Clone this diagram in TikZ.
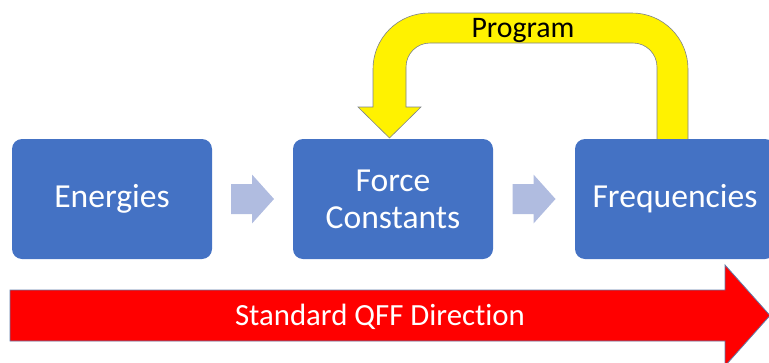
\documentclass[tikz,border=0pt]{standalone}
\usepackage{fontspec}
\setmainfont{Carlito}[Ligatures={NoCommon}]
\usetikzlibrary{calc}

\definecolor{boxblue}{RGB}{68,114,196}
\definecolor{stepgrey}{RGB}{176,188,224}
\definecolor{edgeblue}{RGB}{96,125,170}
\definecolor{edgegrey}{RGB}{125,130,140}

\tikzset{
  stage/.style={rectangle, rounded corners=10pt, fill=boxblue, text=white,
    minimum width=200pt, minimum height=120pt, inner sep=0pt, align=center,
    font=\fontsize{33.6}{37}\selectfont},
  flowarrow/.style={fill=stepgrey},
  feedback/.style={fill=yellow, draw=edgegrey, line width=0.6pt},
  bigarrow/.style={fill=red, draw=edgeblue, line width=0.8pt},
  caption/.style={anchor=base, inner sep=0pt},
}

\begin{document}
\begin{tikzpicture}[x=1pt, y=-1pt]
  \useasboundingbox (0,0) rectangle (769,362);
  \clip (0,0) rectangle (769,362);

  % feedback loop from Frequencies back to Force Constants
  \draw[feedback] (688,145) -- (688,69)
    arc[start angle=0, end angle=-90, radius=56] -- (429,13)
    arc[start angle=-90, end angle=-180, radius=56] -- (373,107)
    -- (358,107) -- (389.5,138) -- (421,107) -- (406,107) -- (406,67)
    arc[start angle=180, end angle=270, radius=24] -- (633,43)
    arc[start angle=270, end angle=360, radius=24] -- (657,145) -- cycle;
  \node[caption, font=\fontsize{29.8}{34}\selectfont] (prog) at (523,37) {Program};

  % the three stages
  \node[stage] (en) at (112,199) {Energies};
  \node[stage] (fc) at (393,199) {Force\\Constants};
  \node[stage] (fr) at (675,199) {Frequencies};

  % step arrows between stages
  \coordinate (s1) at ($(en.east)!0.5!(fc.west)$);
  \coordinate (s2) at ($(fc.east)!0.5!(fr.west)$);
  \foreach \c in {s1,s2}{
    \fill[flowarrow] (\c) ++(-21.5,-15) -- ++(21,0) -- ++(0,-9.5)
      -- ++(22,24.5) -- ++(-22,24.5) -- ++(0,-9.5) -- ++(-21,0) -- cycle;
  }

  % overall direction arrow
  \draw[bigarrow] (10,290) -- (725,290) -- (725,265) -- (770,315.5)
    -- (725,366) -- (725,341) -- (10,341) -- cycle;
  \node[caption, text=white, font=\fontsize{30.8}{36}\selectfont] (dir) at (380,325)
    {Standard QFF Direction};
\end{tikzpicture}
\end{document}
